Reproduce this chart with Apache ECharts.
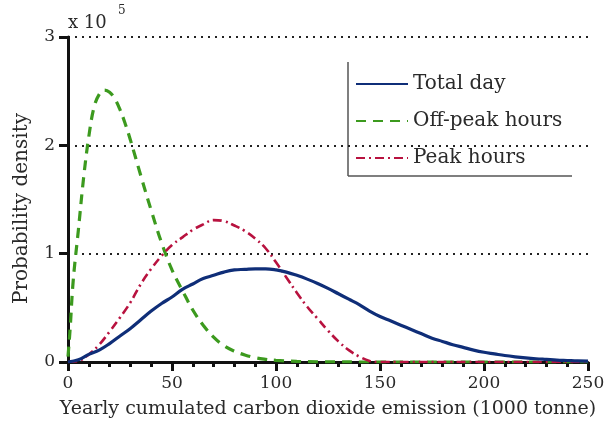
<!DOCTYPE html>
<html>
<head>
<meta charset="utf-8">
<script src="https://cdn.jsdelivr.net/npm/echarts@6/dist/echarts.min.js"></script>
<style>html,body{margin:0;padding:0;background:#fff}#c{width:608px;height:430px}</style>
</head>
<body>
<div id="c"></div>
<script>
// Data (probability density, units of 1e-5)
const xTotal = [0,5,10,15,20,25,30,35,40,45,50,55,60,65,70,75,80,85,90,95,100,105,110,115,120,125,130,135,140,145,150,155,160,165,170,175,180,185,190,195,200,205,210,215,220,225,230,235,240,245,250];
const totalDay = [0,0.02,0.07,0.11,0.17,0.24,0.31,0.39,0.47,0.54,0.6,0.67,0.72,0.77,0.8,0.83,0.85,0.855,0.86,0.86,0.85,0.83,0.8,0.765,0.725,0.68,0.63,0.58,0.53,0.47,0.42,0.38,0.34,0.3,0.26,0.22,0.19,0.16,0.135,0.11,0.09,0.075,0.06,0.048,0.038,0.03,0.024,0.018,0.014,0.01,0.008];
const xOff = [0,1,2.5,5,7.5,10,12.5,15,17.5,20,22.5,25,27.5,30,35,40,45,50,55,60,65,70,75,80,85,90,95,100,110,120,150,200,250];
const offPeak = [0.05,0.3,0.75,1.22,1.7,2.08,2.35,2.47,2.51,2.49,2.43,2.33,2.2,2.05,1.72,1.4,1.1,0.85,0.66,0.48,0.34,0.23,0.15,0.1,0.065,0.04,0.025,0.015,0.006,0.002,0,0,0];
const xPeak = [0,5,10,15,20,25,30,35,40,45,50,55,60,65,70,75,80,85,90,95,100,105,110,115,120,125,130,135,140,145,150,200,250];
const peak = [0,0.01,0.07,0.16,0.28,0.41,0.55,0.72,0.86,0.98,1.08,1.15,1.22,1.27,1.31,1.3,1.26,1.21,1.14,1.05,0.92,0.78,0.64,0.51,0.4,0.29,0.19,0.11,0.05,0.01,0,0,0];
const xTicks = [0,50,100,150,200,250];
const yTicks = [0,1,2,3];
const seriesNames = ['Total day','Off-peak hours','Peak hours'];

const zip = (xs, ys) => xs.map((x, i) => [x, ys[i]]);
const FONT = '"DejaVu Serif", "Liberation Serif", serif';
const TXT = '#2a2a2a';

const chart = echarts.init(document.getElementById('c'), null, {renderer: 'canvas'});
chart.setOption({
  animation: false,
  backgroundColor: '#fff',
  grid: {left: 68, right: 20, top: 37, bottom: 68, containLabel: false},
  xAxis: {
    type: 'value', min: xTicks[0], max: xTicks[xTicks.length - 1], interval: 50,
    name: 'Yearly cumulated carbon dioxide emission (1000 tonne)',
    nameLocation: 'middle', nameGap: 38,
    nameTextStyle: {fontFamily: FONT, fontSize: 19, color: TXT},
    axisLine: {show: true, lineStyle: {color: '#111', width: 3}},
    axisTick: {show: true, inside: false, length: 9, lineStyle: {color: '#111', width: 3}},
    minorTick: {show: true, splitNumber: 5, length: 5, lineStyle: {color: '#111', width: 3}},
    axisLabel: {fontFamily: FONT, fontSize: 17, color: TXT, margin: 13},
    splitLine: {show: false}
  },
  yAxis: {
    type: 'value', min: yTicks[0], max: yTicks[yTicks.length - 1], interval: 1,
    name: 'Probability density', nameLocation: 'middle', nameGap: 36,
    nameTextStyle: {fontFamily: FONT, fontSize: 20, color: TXT, padding: [0, 18, 0, 0]},
    axisLine: {show: true, lineStyle: {color: '#111', width: 3}},
    axisTick: {show: true, inside: false, length: 9, lineStyle: {color: '#111', width: 3}},
    axisLabel: {fontFamily: FONT, fontSize: 17, color: TXT, margin: 13},
    splitLine: {show: true, showMinLine: false, lineStyle: {color: '#222', width: 2, type: [2, 5]}}
  },
  legend: {
    orient: 'vertical', left: 355, top: 74, padding: 0,
    itemWidth: 52, itemHeight: 14, itemGap: 17,
    itemStyle: {opacity: 0},
    textStyle: {fontFamily: FONT, fontSize: 20, color: TXT},
    data: seriesNames
  },
  graphic: [
    {type: 'text', left: 68, top: 14, style: {text: 'x 10', font: '18px ' + FONT, fill: TXT}},
    {type: 'text', left: 118, top: 5, style: {text: '5', font: '12px ' + FONT, fill: TXT}},
    {type: 'line', shape: {x1: 348, y1: 62, x2: 348, y2: 176}, style: {stroke: '#555', lineWidth: 1.5}},
    {type: 'line', shape: {x1: 348, y1: 176, x2: 572, y2: 176}, style: {stroke: '#555', lineWidth: 1.5}}
  ],
  series: [
    {name: seriesNames[1], type: 'line', smooth: 0.4, symbol: 'none', z: 2,
      data: zip(xOff, offPeak),
      lineStyle: {color: '#3c9a1e', width: 3.2, type: [10, 7]}, itemStyle: {color: '#3c9a1e'}},
    {name: seriesNames[2], type: 'line', smooth: 0.4, symbol: 'none', z: 3,
      data: zip(xPeak, peak),
      lineStyle: {color: '#b8123f', width: 2.6, type: [9, 4, 2, 4]}, itemStyle: {color: '#b8123f'}},
    {name: seriesNames[0], type: 'line', smooth: 0.4, symbol: 'none', z: 4,
      data: zip(xTotal, totalDay),
      lineStyle: {color: '#0f2e78', width: 3.2}, itemStyle: {color: '#0f2e78'}}
  ]
});
</script>
</body>
</html>
